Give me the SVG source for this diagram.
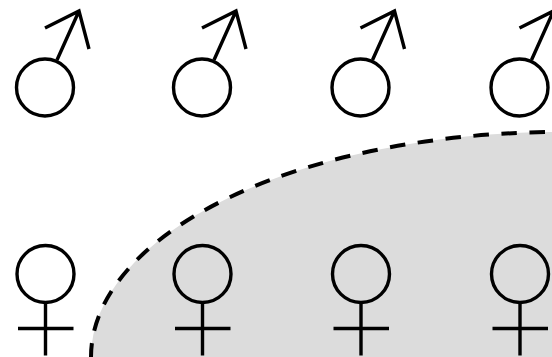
<svg xmlns="http://www.w3.org/2000/svg" width="552" height="357" viewBox="0 0 552 357">
<style>
.s{fill:none;stroke:#000;stroke-width:3.4}
.d{fill:none;stroke:#000;stroke-width:4;stroke-dasharray:15.500 12.540;stroke-dashoffset:1.500}
</style>
<defs>
<g id="male" class="s"><circle cx="45" cy="87.500" r="28.500"/><path d="M57 60L79 11M45 28L79 11L89 49"/></g>
<g id="female" class="s"><circle cx="45.500" cy="274" r="28.500"/><path d="M45.500 302.500V355.500M18 328.500H73.500"/></g>
</defs>
<path id="region" d="M91 357A469 225 0 0 1 560 132V357Z" fill="#dcdcdc"/>
<g id="connectors"><path class="d" d="M91 357A469 225 0 0 1 560 132"/></g>
<g id="m1"><use href="#male"/></g>
<g id="m2"><use href="#male" x="157"/></g>
<g id="m3"><use href="#male" x="315.500"/></g>
<g id="m4"><use href="#male" x="474.500"/></g>
<g id="f1"><use href="#female"/></g>
<g id="f2"><use href="#female" x="157"/></g>
<g id="f3"><use href="#female" x="315.500"/></g>
<g id="f4"><use href="#female" x="474.500"/></g>
</svg>
